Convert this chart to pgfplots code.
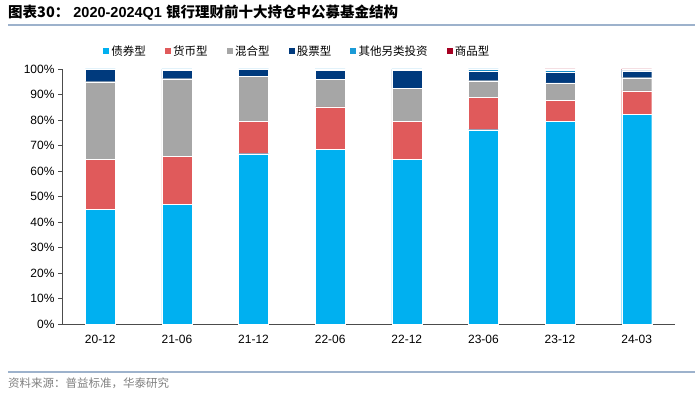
\documentclass[border=0pt]{standalone}
\usepackage{fontspec}
\setmainfont{Liberation Sans}
\newfontfamily\cjk{Noto Sans CJK SC}
\usepackage{pgfplots}
\pgfplotsset{compat=1.18}
\definecolor{cBond}{HTML}{00B0F0}
\definecolor{cMoney}{HTML}{E05A5B}
\definecolor{cMix}{HTML}{A6A6A6}
\definecolor{cStock}{HTML}{003A7D}
\definecolor{cOther}{HTML}{1B9BD7}
\definecolor{cComm}{HTML}{A50021}
\definecolor{cLine}{HTML}{9DB2CC}
\begin{document}
\begin{tikzpicture}
\useasboundingbox (0pt,0pt) rectangle (700pt,-395pt);
\node[anchor=west,inner sep=0pt,font=\fontsize{14.5}{16}\selectfont\bfseries] at (8pt,-13pt) {{\cjk 图表30：}\ 2020-2024Q1 {\cjk 银行理财前十大持仓中公募基金结构}};
\draw[cLine,line width=1.5pt] (8pt,-25pt) -- (695pt,-25pt);
\draw[cLine,line width=2pt] (8pt,-372pt) -- (695pt,-372pt);
\node[anchor=west,inner sep=0pt,text=gray,font=\cjk\fontsize{11.5}{13}\selectfont] at (8pt,-383pt) {资料来源：普益标准，华泰研究};
\begin{axis}[
  at={(62pt,-324pt)}, anchor=south west,
  scale only axis, width=613pt, height=255pt,
  ybar stacked, bar width=30pt,
  xmin=-0.5, xmax=7.5, ymin=0, ymax=100,
  xtick={0,...,7},
  xticklabels={20-12,21-06,21-12,22-06,22-12,23-06,23-12,24-03},
  major x tick style={draw=none},
  extra x ticks={-0.5,0.5,...,7.5},
  extra x tick labels={},
  extra x tick style={major tick length=4pt, tick style={black!70}},
  ytick={0,10,...,100},
  yticklabel={\pgfmathprintnumber{\tick}\%},
  tick align=outside, tick pos=lower,
  major tick length=4pt,
  tick style={black!70},
  axis lines*=left,
  axis line style={black!70,-},
  ticklabel style={font=\fontsize{12}{14}\selectfont},
  /pgf/number format/assume math mode=true,
  xticklabel style={yshift=-4pt},
  legend style={draw=none, at={(0.383,1.07)}, anchor=center,
    font=\cjk\fontsize{11.5}{13}\selectfont, legend columns=6,
    /tikz/every even column/.append style={column sep=16pt}},
  legend image code/.code={\fill[#1] (0pt,-3.5pt) rectangle (7pt,3.5pt);},
  every axis plot/.append style={draw=white, line width=0.3pt},
]
\addplot[fill=cBond] coordinates {(0,45.0) (1,46.9) (2,66.8) (3,68.6) (4,64.7) (5,76.2) (6,79.6) (7,82.2)};
\addplot[fill=cMoney] coordinates {(0,19.7) (1,18.9) (2,12.8) (3,16.5) (4,14.9) (5,12.8) (6,8.2) (7,9.2)};
\addplot[fill=cMix] coordinates {(0,30.3) (1,30.4) (2,17.5) (3,10.9) (4,12.9) (5,6.4) (6,6.8) (7,5.2)};
\addplot[fill=cStock] coordinates {(0,4.8) (1,3.3) (2,2.7) (3,3.6) (4,7.1) (5,3.9) (6,4.3) (7,2.7)};
\addplot[fill=cOther] coordinates {(0,0.2) (1,0.5) (2,0.2) (3,0.4) (4,0.4) (5,0.7) (6,0.7) (7,0.2)};
\addplot[fill=cComm] coordinates {(0,0) (1,0) (2,0) (3,0) (4,0) (5,0) (6,0.4) (7,0.5)};
\legend{债券型,货币型,混合型,股票型,其他另类投资,商品型}
\end{axis}
\end{tikzpicture}
\end{document}
